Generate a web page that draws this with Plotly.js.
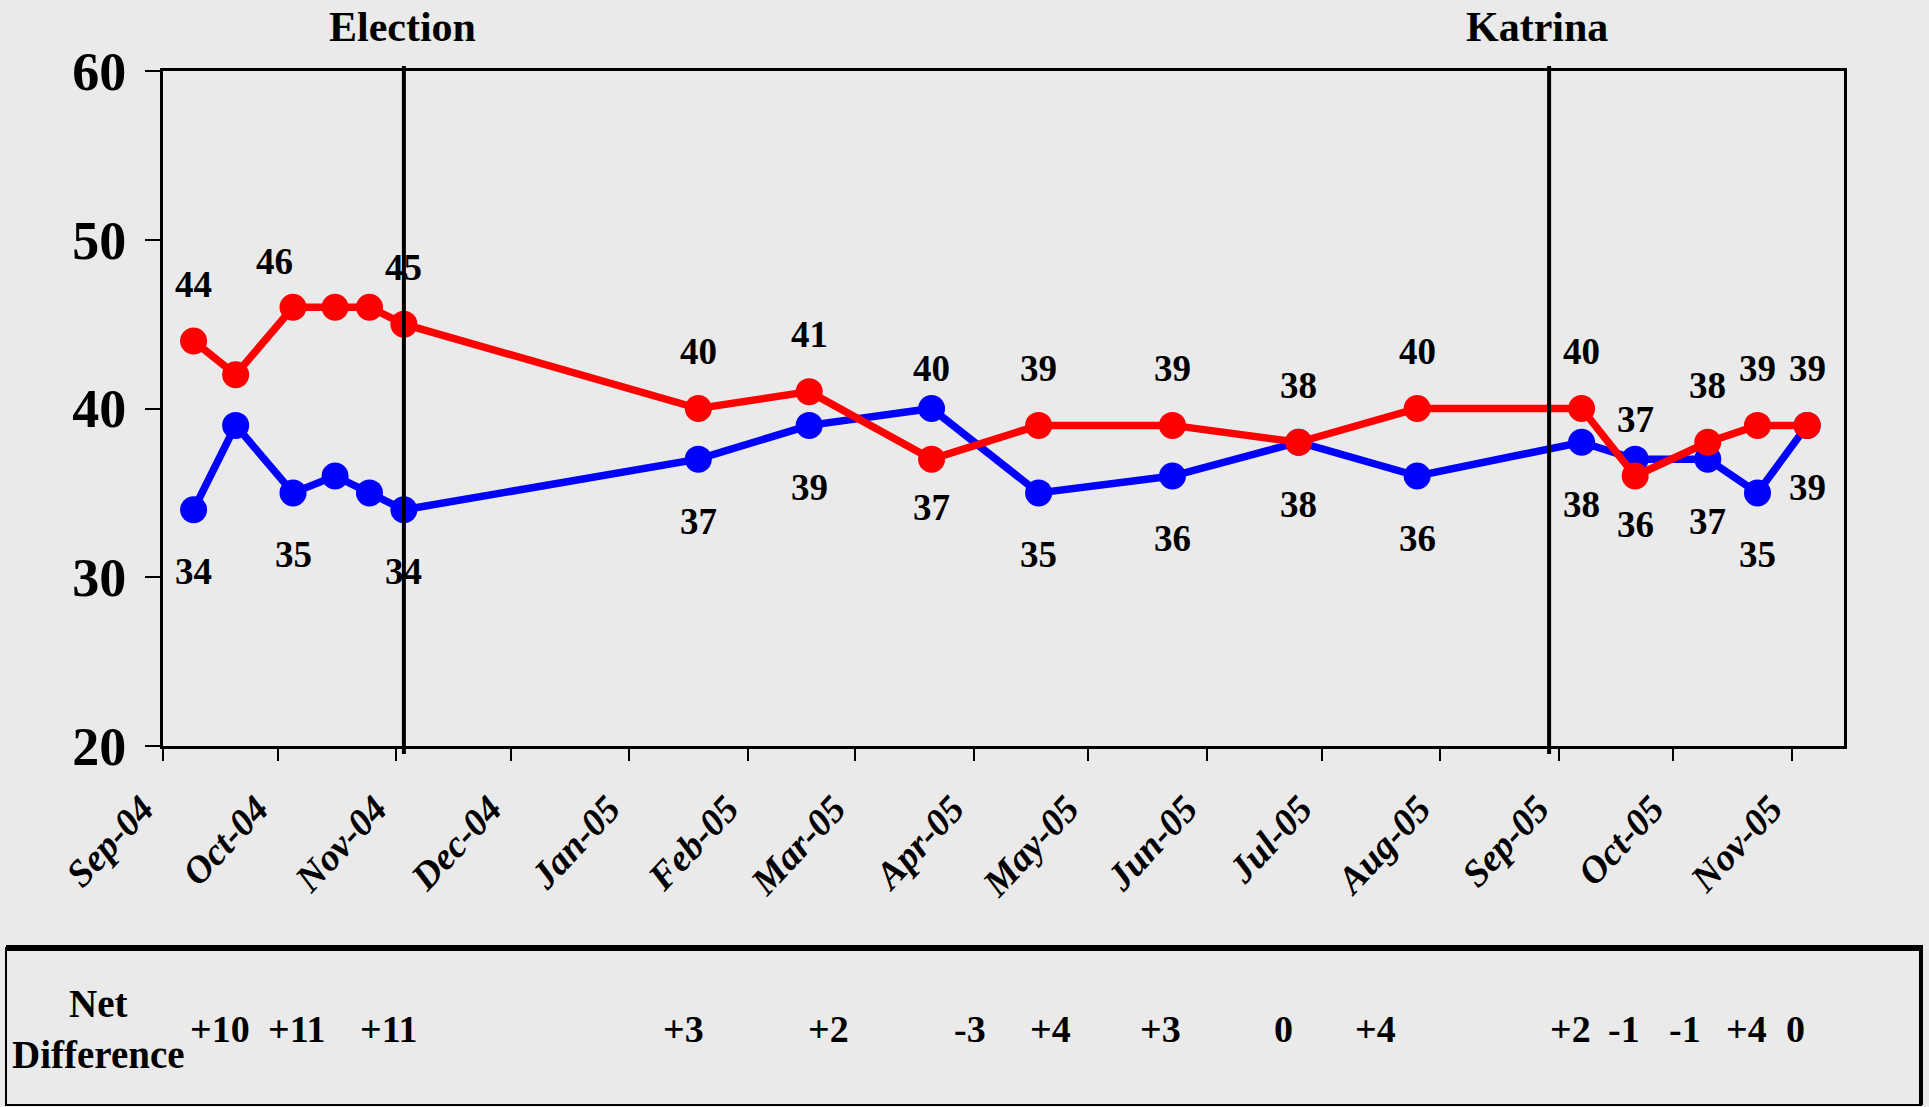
<!DOCTYPE html>
<html>
<head>
<meta charset="utf-8">
<script src="https://cdn.plot.ly/plotly-3.0.1.min.js"></script>
<style>
  html, body { margin: 0; padding: 0; background: #EAEAEA; }
  #chart { width: 1929px; height: 1107px; }
</style>
</head>
<body>
<div id="chart"></div>
<script>
// ---- Data ----
const pollDates = ['2004-09-09','2004-09-20','2004-10-05','2004-10-16','2004-10-25','2004-11-03',
                   '2005-01-19','2005-02-17','2005-03-21','2005-04-18','2005-05-23','2005-06-25',
                   '2005-07-26','2005-09-07','2005-09-21','2005-10-10','2005-10-23','2005-11-05'];
const redValues  = [44,42,46,46,46,45,40,41,37,39,39,38,40,40,36,38,39,39];
const blueValues = [34,39,35,36,35,34,37,39,40,35,36,38,36,38,37,37,35,39];
// which points carry a value label, and on which side
const redLabelSide  = ['above',null,'above-left',null,null,'above','above','above','below','above','above','above','above','above','below','above','above','above'];
const blueLabelSide = ['below',null,'below',null,null,'below','below','below','above','below','below','below','below','below','above','below','below','below'];

const eventDates  = ['2004-11-03', '2005-08-29 12:00'];
const eventLabels = ['Election', 'Katrina'];

const netDates  = ['2004-09-16','2004-10-06','2004-10-30','2005-01-15','2005-02-22','2005-03-31','2005-04-21',
                   '2005-05-20','2005-06-21','2005-07-15','2005-09-04','2005-09-18','2005-10-04','2005-10-20','2005-11-02'];
const netLabels = ['+10','+11','+11','+3','+2','-3','+4','+3','0','+4','+2','-1','-1','+4','0'];
const netTitle  = 'Net<br>Difference';

// ---- Styling ----
const BG = '#EAEAEA';
const FONT = '"Liberation Serif", "Times New Roman", serif';
const RED = '#FF0000', BLUE = '#0000FF';

const traces = [
  { x: pollDates, y: blueValues, type: 'scatter', mode: 'lines+markers',
    line: { color: BLUE, width: 7.5 }, marker: { color: BLUE, size: 27 },
    hoverinfo: 'skip', showlegend: false },
  { x: pollDates, y: redValues, type: 'scatter', mode: 'lines+markers',
    line: { color: RED, width: 7.5 }, marker: { color: RED, size: 27 },
    hoverinfo: 'skip', showlegend: false }
];

const annotations = [];
const labelFont = { family: FONT, size: 37, color: '#000', weight: 'bold' };
function addLabels(values, sides, upShift, downShift) {
  values.forEach((v, i) => {
    const s = sides[i];
    if (!s) return;
    const up = s.indexOf('above') === 0;
    annotations.push({
      x: pollDates[i], y: v, xref: 'x', yref: 'y', text: String(v), showarrow: false,
      font: labelFont, xanchor: 'center', yanchor: 'middle',
      xshift: s === 'above-left' ? -19 : 0,
      yshift: s === 'above-left' ? 46 : (up ? upShift : -downShift)
    });
  });
}
addLabels(redValues, redLabelSide, 57, 48);
addLabels(blueValues, blueLabelSide, 40, 62);

const shapes = [];
eventDates.forEach((d, i) => {
  shapes.push({ type: 'line', xref: 'x', yref: 'paper', x0: d, x1: d, y0: -0.0119, y1: 1.0074,
                line: { color: '#000', width: 4 } });
  annotations.push({ x: d, y: 1.0652, xref: 'x', yref: 'paper', text: eventLabels[i], showarrow: false,
                     xanchor: 'center', yanchor: 'middle', xshift: i === 1 ? -12 : -1,
                     font: { family: FONT, size: 42, color: '#000', weight: 'bold' } });
});

// Net difference panel
shapes.push({ type: 'rect', xref: 'paper', yref: 'paper', x0: -0.0934, x1: 1.0458, y0: -0.5318, y1: -0.2993,
              line: { color: '#000', width: 2 }, fillcolor: 'rgba(0,0,0,0)' });
shapes.push({ type: 'line', xref: 'paper', yref: 'paper', x0: -0.0934, x1: 1.0470, y0: -0.2993, y1: -0.2993,
              line: { color: '#000', width: 6 } });
shapes.push({ type: 'line', xref: 'paper', yref: 'paper', x0: 1.0458, x1: 1.0458, y0: -0.2993, y1: -0.5318,
              line: { color: '#000', width: 4 } });

annotations.push({ x: -0.0381, y: -0.419, xref: 'paper', yref: 'paper', text: netTitle, showarrow: false,
                   xanchor: 'center', yanchor: 'middle',
                   font: { family: FONT, size: 39, color: '#000', weight: 'bold' } });
netLabels.forEach((t, i) => {
  annotations.push({ x: netDates[i], y: -0.419, xref: 'x', yref: 'paper', text: t, showarrow: false,
                     xanchor: 'center', yanchor: 'middle',
                     font: { family: FONT, size: 38, color: '#000', weight: 'bold' } });
});

const layout = {
  width: 1929, height: 1107,
  margin: { l: 163, r: 85, t: 71, b: 361, pad: 0 },
  paper_bgcolor: BG, plot_bgcolor: BG,
  showlegend: false,
  xaxis: {
    type: 'date', range: ['2004-09-01', '2005-11-14 15:00'],
    tick0: '2004-09-01', dtick: 'M1', tickformat: '%b-%y',
    ticks: 'outside', ticklen: 12, tickwidth: 2, tickcolor: '#000',
    showline: true, linecolor: '#000', linewidth: 3, mirror: true,
    showgrid: false, zeroline: false,
    tickangle: -47, ticklabelstandoff: 10, ticklabelshift: -21,
    tickfont: { family: FONT, size: 38, color: '#000', weight: 'bold', style: 'italic' }
  },
  yaxis: {
    range: [20, 60], tick0: 20, dtick: 10,
    ticks: 'outside', ticklen: 15, tickwidth: 2, tickcolor: '#000',
    showline: true, linecolor: '#000', linewidth: 3, mirror: true,
    showgrid: false, zeroline: false, ticklabelstandoff: 8,
    tickfont: { family: FONT, size: 54, color: '#000', weight: 'bold' }
  },
  shapes: shapes,
  annotations: annotations
};

Plotly.newPlot('chart', traces, layout, { staticPlot: true, displayModeBar: false });
</script>
</body>
</html>
